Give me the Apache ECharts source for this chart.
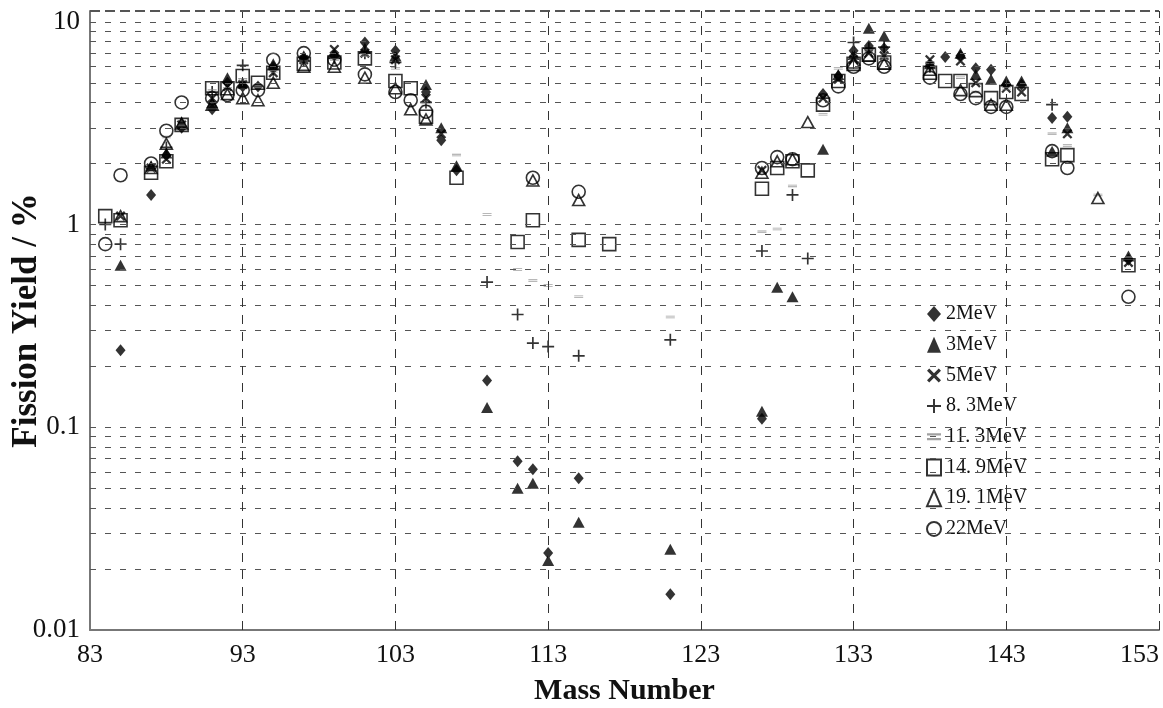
<!DOCTYPE html>
<html>
<head>
<meta charset="utf-8">
<script src="https://cdn.jsdelivr.net/npm/echarts@6/dist/echarts.min.js"></script>
<style>
html,body{margin:0;padding:0;background:#fff;}
#chart{width:1163px;height:708px;}
</style>
</head>
<body>
<div id="chart"></div>
<script>
// ---- data: [mass number, fission yield %] ----
const xTicks = [83, 93, 103, 113, 123, 133, 143, 153];
const yTicks = [0.01, 0.1, 1, 10];
const seriesNames = ['2MeV', '3MeV', '5MeV', '8. 3MeV', '11. 3MeV', '14. 9MeV', '19. 1MeV', '22MeV'];

const y2MeV = [[85,0.24],[87,1.4],[88,2.2],[89,3.0],[91,3.7],[92,5.0],[93,4.8],[94,4.8],[95,6.0],[97,6.6],[99,6.8],[101,7.9],[103,7.2],[105,4.5],[106,2.6],[107,1.85],[109,0.17],[111,0.068],[112,0.062],[113,0.024],[115,0.056],[121,0.015],[127,0.11],[131,4.4],[132,5.4],[133,7.2],[134,7.6],[135,7.4],[138,6.1],[139,6.7],[140,6.8],[141,5.9],[142,5.8],[143,4.9],[144,4.9],[146,3.35],[147,3.4],[151,0.67]];
const y3MeV = [[85,0.63],[87,1.95],[88,2.25],[89,3.2],[91,4.0],[92,5.3],[93,5.0],[95,6.2],[97,6.8],[99,7.0],[101,7.4],[103,6.8],[105,4.9],[106,3.0],[107,1.95],[109,0.125],[111,0.05],[112,0.053],[113,0.022],[115,0.034],[121,0.025],[127,0.12],[128,0.49],[129,0.44],[131,2.35],[132,5.5],[133,6.9],[134,9.3],[135,8.5],[138,6.2],[140,7.0],[141,5.5],[142,5.2],[143,5.1],[144,5.1],[146,2.3],[147,3.0],[151,0.7]];
const y5MeV = [[85,1.1],[87,1.9],[88,2.1],[89,3.1],[91,4.2],[92,4.8],[93,4.9],[95,5.6],[97,6.5],[99,7.3],[101,7.0],[103,6.5],[105,4.2],[106,2.8],[127,1.85],[131,4.2],[132,5.2],[133,6.5],[134,7.0],[135,6.8],[138,6.5],[140,6.4],[141,5.0],[143,4.7],[144,4.5],[147,2.8],[151,0.65]];
const y8p3MeV = [[84,1.0],[85,0.8],[88,2.4],[91,4.5],[93,6.1],[95,5.8],[97,6.4],[99,6.6],[101,7.0],[103,6.3],[105,4.0],[109,0.52],[111,0.36],[112,0.26],[113,0.25],[115,0.225],[121,0.27],[127,0.74],[129,1.4],[130,0.68],[133,7.9],[134,7.4],[135,7.5],[138,6.0],[146,3.9]];
const y11p3MeV = [[87,1.85],[88,2.7],[89,3.1],[91,4.6],[92,4.7],[93,5.2],[94,4.8],[95,5.7],[97,6.4],[99,6.5],[101,6.8],[103,5.9],[105,3.9],[107,2.2],[109,1.12],[111,0.6],[112,0.53],[113,0.5],[115,0.44],[121,0.35],[127,0.92],[128,0.95],[129,1.55],[131,3.5],[132,5.9],[133,6.6],[134,7.2],[135,6.6],[138,6.3],[140,5.3],[141,4.5],[143,4.7],[146,2.8],[147,2.45],[149,1.4],[151,0.68]];
const y14p9MeV = [[84,1.1],[85,1.05],[87,1.8],[88,2.05],[89,3.1],[91,4.7],[92,4.7],[93,5.4],[94,5.0],[95,5.6],[97,6.2],[99,6.3],[101,6.6],[103,5.1],[104,4.7],[105,3.4],[107,1.7],[111,0.82],[112,1.05],[115,0.84],[117,0.8],[127,1.5],[128,1.9],[129,2.05],[130,1.85],[131,3.9],[132,5.1],[133,6.2],[134,6.9],[135,6.3],[138,5.6],[139,5.1],[140,5.1],[141,4.6],[142,4.2],[143,4.5],[144,4.4],[146,2.1],[147,2.2],[151,0.63]];
const y19p1MeV = [[85,1.1],[87,1.9],[88,2.5],[89,3.15],[91,3.9],[92,4.4],[93,4.2],[94,4.1],[95,5.0],[97,6.0],[99,6.0],[101,5.3],[103,4.7],[104,3.7],[105,3.3],[112,1.65],[115,1.32],[127,1.8],[128,2.05],[129,2.1],[130,3.2],[133,6.3],[134,6.8],[135,6.2],[138,5.8],[140,4.6],[142,3.9],[143,3.9],[149,1.35]];
const y22MeV = [[84,0.8],[85,1.75],[87,2.0],[88,2.9],[89,4.0],[91,4.2],[92,4.35],[93,4.6],[94,4.6],[95,6.5],[97,7.0],[99,6.5],[101,5.5],[103,4.5],[104,4.1],[105,3.6],[112,1.7],[115,1.45],[127,1.9],[128,2.15],[129,2.1],[131,4.1],[132,4.8],[133,6.0],[134,6.6],[135,6.0],[138,5.3],[140,4.4],[141,4.2],[142,3.8],[143,3.8],[146,2.3],[147,1.9],[151,0.44]];

const yMin = 0.01, yMax = 11.3;

// grid line values (axis decoration)
const hGrid = [];
for (let d = 0.01; d < 10; d *= 10) {
  for (let k = 2; k <= 10; k++) hGrid.push(+(d * k).toPrecision(3));
}
const vGrid = xTicks.slice(1);

const SERIF = 'Liberation Serif';
const plusPath = 'path://M4.3,0H5.7V4.3H10V5.7H5.7V10H4.3V5.7H0V4.3H4.3Z';
const crossPath = 'path://M1.6,0L5,3.4L8.4,0L10,1.6L6.6,5L10,8.4L8.4,10L5,6.6L1.6,10L0,8.4L3.4,5L0,1.6Z';
const approxPath = 'path://M0,0H10V1.6H0Z M0,3.4H10V5H0Z';

function mk(name, data, symbol, size, style) {
  return {
    name: name, type: 'scatter', data: data,
    symbol: symbol, symbolSize: size, symbolKeepAspect: true,
    itemStyle: style, z: 3, animation: false
  };
}
const filled = {color: '#000'};
const hollow = {color: 'rgba(0,0,0,0)', borderColor: '#000', borderWidth: 1.6};

const series = [
  mk(seriesNames[0], y2MeV, 'diamond', [10, 12], filled),
  mk(seriesNames[1], y3MeV, 'triangle', [12, 11], filled),
  mk(seriesNames[2], y5MeV, crossPath, 10, filled),
  mk(seriesNames[3], y8p3MeV, plusPath, 12, filled),
  mk(seriesNames[4], y11p3MeV, approxPath, [9, 5], {color: '#8a8a8a'}),
  mk(seriesNames[5], y14p9MeV, 'rect', 13, hollow),
  mk(seriesNames[6], y19p1MeV, 'triangle', [12, 11], hollow),
  mk(seriesNames[7], y22MeV, 'circle', 13, hollow)
];

// grid lines drawn through the axes' own scales
series.push({
  type: 'scatter', data: [], silent: true, animation: false, z: 1,
  markLine: {
    silent: true, symbol: ['none', 'none'], animation: false,
    label: {show: false},
    lineStyle: {color: '#555', width: 1, type: [6, 9]},
    data: hGrid.map(v => ({yAxis: v}))
      .concat(vGrid.map(v => ({xAxis: v, lineStyle: {color: '#333', width: 1, type: [9, 8]}})))
      .concat([{yAxis: yMax, lineStyle: {color: '#555', width: 2, type: [10, 5]}}])
  }
});

const chart = echarts.init(document.getElementById('chart'), null, {renderer: 'canvas'});
chart.setOption({
  backgroundColor: '#fff',
  animation: false,
  grid: {left: 90, right: 4, top: 11, bottom: 78, containLabel: false, outerBoundsMode: 'none'},
  legend: {
    orient: 'vertical', left: 921, top: 299,
    itemWidth: 14, itemHeight: 16, itemGap: 10.7,
    textStyle: {fontFamily: SERIF, fontSize: 20, color: '#111', lineHeight: 16},
    data: seriesNames
  },
  xAxis: {
    type: 'value', min: 83, max: 153,
    name: 'Mass Number', nameLocation: 'middle', nameGap: 46, nameMoveOverlap: false,
    nameTextStyle: {fontFamily: SERIF, fontWeight: 'bold', fontSize: 30, color: '#111'},
    axisLine: {show: true, lineStyle: {color: '#777', width: 2}},
    axisTick: {show: false},
    splitLine: {show: false},
    axisLabel: {customValues: xTicks, fontFamily: SERIF, fontSize: 26, color: '#111', margin: 12, alignMaxLabel: 'right'}
  },
  yAxis: {
    type: 'log', logBase: 10, min: yMin, max: yMax,
    name: 'Fission Yield / %', nameLocation: 'middle', nameGap: 46, nameRotate: 90, nameMoveOverlap: false,
    nameTextStyle: {fontFamily: SERIF, fontWeight: 'bold', fontSize: 35, color: '#111'},
    axisLine: {show: true, lineStyle: {color: '#777', width: 2}},
    axisTick: {show: false},
    splitLine: {show: false},
    axisLabel: {
      customValues: yTicks, fontFamily: SERIF, fontSize: 27, color: '#111', margin: 10,
      formatter: v => {
        const t = yTicks.find(t => Math.abs(v - t) / t < 1e-6);
        return t === undefined ? '' : String(t);
      }
    }
  },
  series: series
});
</script>
</body>
</html>
